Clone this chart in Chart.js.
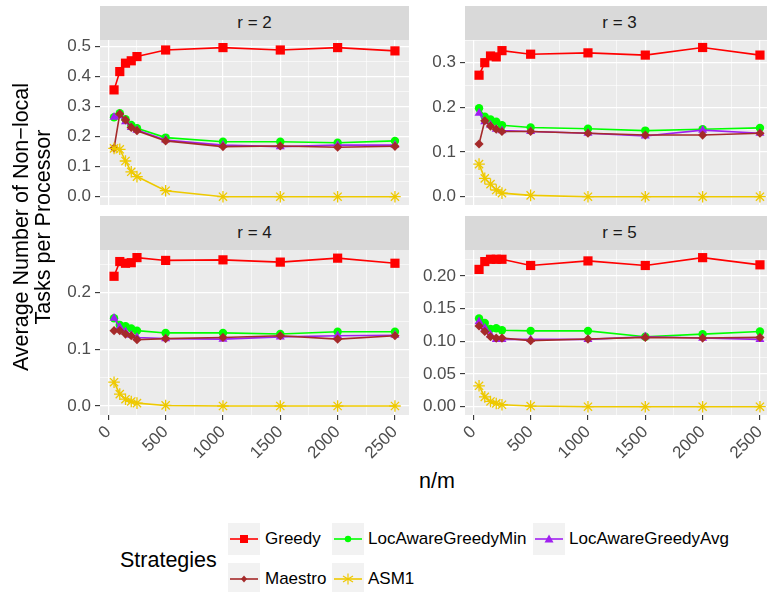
<!DOCTYPE html>
<html>
<head>
<meta charset="utf-8">
<script src="https://cdn.jsdelivr.net/npm/chart.js@4.4.1/dist/chart.umd.min.js"></script>
<style>
  html, body { margin: 0; padding: 0; background: #ffffff; }
  body { width: 767px; height: 592px; overflow: hidden; position: relative;
         font-family: "Liberation Sans", Arial, Helvetica, sans-serif; }
  #stage { position: absolute; left: 0; top: 0; width: 767px; height: 592px; overflow: hidden; }
  canvas { position: absolute; }
  .strip { position: absolute; background: #D9D9D9; color: #1A1A1A; font-size: 17px;
           text-align: center; height: 34px; line-height: 34px; }
  .ytitle { position: absolute; width: 420px; height: 46px; left: -177px; top: 204px;
            transform: rotate(-90deg); transform-origin: 50% 50%; text-align: center;
            font-size: 21.5px; line-height: 22px; color: #000; }
  .xtitle { position: absolute; left: 387px; width: 100px; top: 469px; text-align: center;
            font-size: 21.5px; line-height: 24px; color: #000; }
  .ltitle { position: absolute; left: 120px; top: 548px; font-size: 21.5px; line-height: 24px; color: #000; }
  .lkey { position: absolute; width: 32px; height: 32px; }
  .ltext { position: absolute; font-size: 17px; line-height: 20px; color: #000; white-space: nowrap; }
</style>
</head>
<body>
<div id="stage">
  <div class="strip" style="left:100px;top:6px;width:309px;">r = 2</div>
  <div class="strip" style="left:465px;top:6px;width:309px;">r = 3</div>
  <div class="strip" style="left:100px;top:216px;width:309px;">r = 4</div>
  <div class="strip" style="left:465px;top:216px;width:309px;">r = 5</div>
  <canvas id="c2"></canvas>
  <canvas id="c3"></canvas>
  <canvas id="c4"></canvas>
  <canvas id="c5"></canvas>
  <div class="ytitle">Average Number of Non−local<br>Tasks per Processor</div>
  <div class="xtitle">n/m</div>
  <div class="ltitle">Strategies</div>
  <div id="legend"></div>
</div>
<script>
// n/m values on the x axis
const nm = [50, 100, 150, 200, 250, 500, 1000, 1500, 2000, 2500];
const strategies = ['Greedy', 'LocAwareGreedyMin', 'LocAwareGreedyAvg', 'Maestro', 'ASM1'];

// r = 2
const greedyR2  = [0.356, 0.417, 0.445, 0.453, 0.467, 0.489, 0.497, 0.489, 0.497, 0.486];
const minR2     = [0.265, 0.278, 0.258, 0.239, 0.228, 0.197, 0.183, 0.183, 0.180, 0.186];
const avgR2     = [0.265, 0.270, 0.250, 0.231, 0.222, 0.189, 0.172, 0.167, 0.172, 0.172];
const maestroR2 = [0.162, 0.276, 0.256, 0.231, 0.220, 0.186, 0.167, 0.169, 0.165, 0.168];
const asm1R2    = [0.161, 0.158, 0.119, 0.083, 0.067, 0.020, 0.000, 0.000, 0.000, 0.000];

// r = 3
const greedyR3  = [0.272, 0.300, 0.315, 0.313, 0.327, 0.319, 0.322, 0.317, 0.334, 0.317];
const minR3     = [0.198, 0.179, 0.173, 0.168, 0.160, 0.155, 0.152, 0.148, 0.151, 0.154];
const avgR3     = [0.187, 0.168, 0.160, 0.151, 0.148, 0.146, 0.142, 0.136, 0.149, 0.142];
const maestroR3 = [0.118, 0.170, 0.158, 0.151, 0.146, 0.146, 0.142, 0.138, 0.138, 0.142];
const asm1R3    = [0.073, 0.041, 0.028, 0.015, 0.008, 0.003, 0.000, 0.000, 0.000, 0.000];

// r = 4
const greedyR4  = [0.229, 0.255, 0.252, 0.253, 0.262, 0.257, 0.258, 0.254, 0.261, 0.252];
const minR4     = [0.155, 0.143, 0.141, 0.137, 0.133, 0.129, 0.129, 0.127, 0.131, 0.131];
const avgR4     = [0.155, 0.139, 0.131, 0.125, 0.121, 0.119, 0.118, 0.122, 0.124, 0.125];
const maestroR4 = [0.133, 0.133, 0.127, 0.124, 0.117, 0.119, 0.121, 0.124, 0.118, 0.124];
const asm1R4    = [0.042, 0.021, 0.012, 0.008, 0.005, 0.001, 0.000, 0.000, 0.000, 0.000];

// r = 5
const greedyR5  = [0.210, 0.222, 0.2255, 0.2255, 0.2255, 0.216, 0.223, 0.216, 0.228, 0.217];
const minR5     = [0.135, 0.128, 0.119, 0.120, 0.117, 0.116, 0.116, 0.107, 0.111, 0.115];
const avgR5     = [0.130, 0.120, 0.110, 0.103, 0.103, 0.103, 0.103, 0.107, 0.105, 0.103];
const maestroR5 = [0.1235, 0.115, 0.107, 0.105, 0.105, 0.101, 0.1035, 0.106, 0.105, 0.106];
const asm1R5    = [0.032, 0.015, 0.008, 0.005, 0.003, 0.001, 0.000, 0.000, 0.000, 0.000];

// axis breaks
const xMajor = [0, 500, 1000, 1500, 2000, 2500];
const xMinor = [250, 750, 1250, 1750, 2250];
const yMajorR2 = [0, 0.1, 0.2, 0.3, 0.4, 0.5];
const yMinorR2 = [0.05, 0.15, 0.25, 0.35, 0.45];
const yMajorR3 = [0, 0.1, 0.2, 0.3];
const yMinorR3 = [0.05, 0.15, 0.25, 0.35];
const yMajorR4 = [0, 0.1, 0.2];
const yMinorR4 = [0.05, 0.15, 0.25];
const yMajorR5 = [0, 0.05, 0.10, 0.15, 0.20];
const yMinorR5 = [0.025, 0.075, 0.125, 0.175, 0.225];

Chart.defaults.font.family = '"Liberation Sans", Arial, Helvetica, sans-serif';
Chart.defaults.animation = false;

const styles = {
  'Greedy':            { color: '#FF0000', shape: 'rect',    radius: 6.5, bw: 0,   order: 4 },
  'LocAwareGreedyMin': { color: '#00FF00', shape: 'circle',  radius: 4.2, bw: 0,   order: 3 },
  'LocAwareGreedyAvg': { color: '#A020F0', shape: 'triangle',radius: 5.2, bw: 0,   order: 2 },
  'Maestro':           { color: '#A52A2A', shape: 'rectRot', radius: 4.6, bw: 0,   order: 1 },
  'ASM1':              { color: '#EEC900', shape: 'star',    radius: 5.8, bw: 1.3, order: 0 }
};

const panelBg = {
  id: 'panelBg',
  beforeDraw(chart) {
    const a = chart.chartArea, ctx = chart.ctx;
    ctx.save();
    ctx.fillStyle = '#EBEBEB';
    ctx.fillRect(a.left, a.top, a.right - a.left, a.bottom - a.top);
    ctx.restore();
  }
};

const Y_AXIS_W = 60, X_AXIS_H = 52, PAD = 12, PANEL_W = 309, PANEL_H = 165;

function isIn(list, v) { return list.some(m => Math.abs(m - v) < 1e-9); }

function makePanel(id, panelLeft, panelTop, series, yMin, yMax, yMajor, yMinor, digits, showX) {
  const cv = document.getElementById(id);
  const w = Y_AXIS_W + PANEL_W;
  const h = PAD + PANEL_H + (showX ? X_AXIS_H : PAD);
  cv.width = w; cv.height = h;
  cv.style.width = w + 'px'; cv.style.height = h + 'px';
  cv.style.left = (panelLeft - Y_AXIS_W) + 'px';
  cv.style.top = (panelTop - PAD) + 'px';

  const datasets = strategies.map((name, k) => {
    const s = styles[name];
    return {
      label: name,
      data: nm.map((x, i) => ({ x: x, y: series[k][i] })),
      borderColor: s.color,
      backgroundColor: s.color,
      borderWidth: 1.6,
      tension: 0,
      fill: false,
      pointStyle: s.shape,
      pointRadius: s.radius,
      pointBorderWidth: s.bw,
      pointBorderColor: s.color,
      pointBackgroundColor: s.color,
      order: s.order
    };
  });

  const yVals = yMajor.concat(yMinor).sort((a, b) => a - b);
  const xVals = xMajor.concat(xMinor).sort((a, b) => a - b);

  return new Chart(cv, {
    type: 'line',
    data: { datasets: datasets },
    plugins: [panelBg],
    options: {
      responsive: false,
      animation: false,
      events: [],
      layout: { autoPadding: false, padding: { top: PAD, bottom: showX ? 0 : PAD, left: 0, right: 0 } },
      plugins: { legend: { display: false }, tooltip: { enabled: false }, title: { display: false } },
      scales: {
        x: {
          type: 'linear', min: -72.5, max: 2622.5,
          afterBuildTicks: sc => { sc.ticks = xVals.map(v => ({ value: v })); },
          afterFit: sc => { sc.height = showX ? X_AXIS_H : 0; sc.paddingLeft = 0; sc.paddingRight = 0; },
          border: { display: false },
          grid: {
            color: '#FFFFFF',
            lineWidth: c => isIn(xMajor, c.tick.value) ? 1.2 : 0.6,
            drawTicks: showX, tickLength: 5, tickWidth: 1.1,
            tickColor: c => isIn(xMajor, c.tick.value) ? '#333333' : 'rgba(0,0,0,0)'
          },
          ticks: {
            display: showX, autoSkip: false, minRotation: 45, maxRotation: 45, padding: 2,
            color: '#4D4D4D', font: { size: 17 },
            callback: v => isIn(xMajor, v) ? String(v) : ''
          }
        },
        y: {
          type: 'linear', min: yMin, max: yMax,
          afterBuildTicks: sc => { sc.ticks = yVals.map(v => ({ value: v })); },
          afterFit: sc => { sc.width = Y_AXIS_W; sc.paddingTop = 0; sc.paddingBottom = 0; },
          border: { display: false },
          grid: {
            color: '#FFFFFF',
            lineWidth: c => isIn(yMajor, c.tick.value) ? 1.2 : 0.6,
            drawTicks: true, tickLength: 5, tickWidth: 1.1,
            tickColor: c => isIn(yMajor, c.tick.value) ? '#333333' : 'rgba(0,0,0,0)'
          },
          ticks: {
            autoSkip: false, padding: 4, color: '#4D4D4D', font: { size: 17 },
            callback: v => isIn(yMajor, v) ? v.toFixed(digits) : ''
          }
        }
      }
    }
  });
}

makePanel('c2', 100, 40,  [greedyR2, minR2, avgR2, maestroR2, asm1R2], -0.0277, 0.5223, yMajorR2, yMinorR2, 1, false);
makePanel('c3', 465, 40,  [greedyR3, minR3, avgR3, maestroR3, asm1R3], -0.0186, 0.3508, yMajorR3, yMinorR3, 1, false);
makePanel('c4', 100, 250, [greedyR4, minR4, avgR4, maestroR4, asm1R4], -0.0159, 0.2754, yMajorR4, yMinorR4, 1, true);
makePanel('c5', 465, 250, [greedyR5, minR5, avgR5, maestroR5, asm1R5], -0.0127, 0.2397, yMajorR5, yMinorR5, 2, true);

// legend keys: grey box, line segment and marker
function markerSvg(shape, c) {
  switch (shape) {
    case 'rect':     return `<rect x="12" y="12" width="8" height="8" fill="${c}"/>`;
    case 'circle':   return `<circle cx="16" cy="16" r="3.2" fill="${c}"/>`;
    case 'triangle': return `<polygon points="16,11.5 20.5,19.5 11.5,19.5" fill="${c}"/>`;
    case 'rectRot':  return `<polygon points="16,12.5 19,16 16,19.5 13,16" fill="${c}"/>`;
    default:         return `<g stroke="${c}" stroke-width="1.2"><line x1="16" y1="10.5" x2="16" y2="21.5"/>` +
                            `<line x1="11" y1="13" x2="21" y2="19"/><line x1="11" y1="19" x2="21" y2="13"/></g>`;
  }
}
const legendPos = [
  { key: 228, text: 265, top: 523 },
  { key: 332, text: 368, top: 523 },
  { key: 533, text: 569, top: 523 },
  { key: 228, text: 265, top: 563 },
  { key: 332, text: 368, top: 563 }
];
const lg = document.getElementById('legend');
strategies.forEach((name, i) => {
  const s = styles[name], p = legendPos[i];
  const key = document.createElement('div');
  key.className = 'lkey';
  key.style.left = p.key + 'px'; key.style.top = p.top + 'px';
  key.innerHTML = `<svg width="32" height="32" xmlns="http://www.w3.org/2000/svg">` +
    `<rect x="0" y="0" width="32" height="32" fill="#F2F2F2"/>` +
    `<line x1="2" y1="16" x2="30" y2="16" stroke="${s.color}" stroke-width="1.6"/>` +
    markerSvg(s.shape, s.color) + `</svg>`;
  lg.appendChild(key);
  const t = document.createElement('div');
  t.className = 'ltext';
  t.style.left = p.text + 'px'; t.style.top = (p.top + 6) + 'px';
  t.textContent = name;
  lg.appendChild(t);
});
</script>
</body>
</html>
